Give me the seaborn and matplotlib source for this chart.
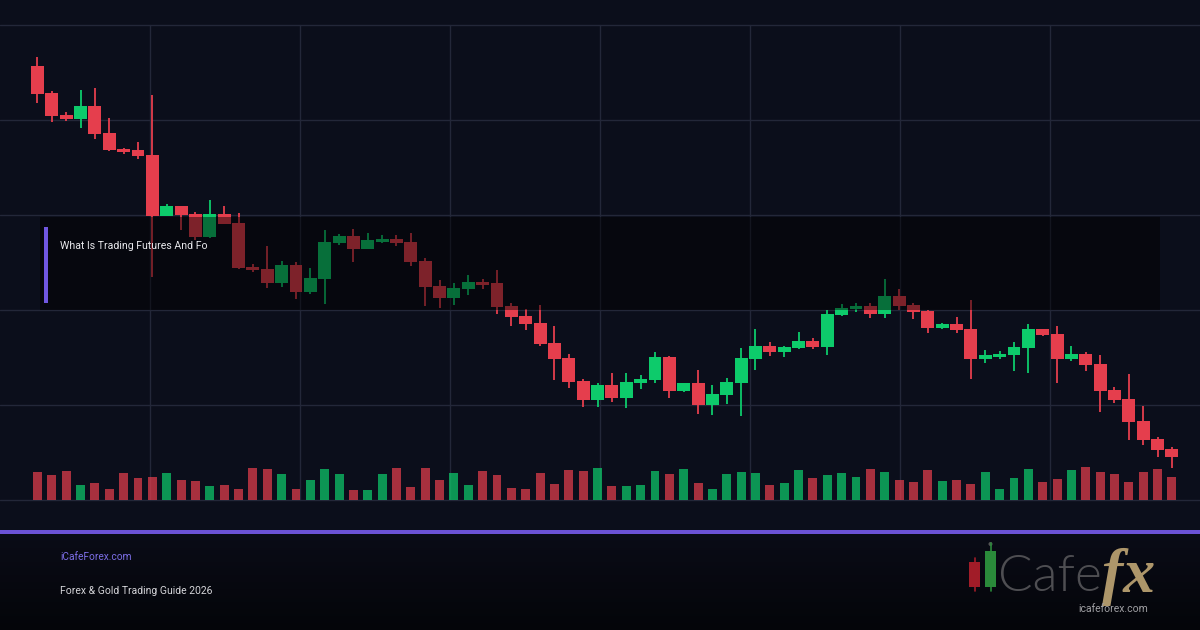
import numpy as np
import pandas as pd
import matplotlib
matplotlib.use('Agg')
import matplotlib.pyplot as plt
from matplotlib.patches import Rectangle, Circle
from matplotlib.colors import LinearSegmentedColormap
import seaborn as sns

# OHLC (one candle per session)
opens = [434, 407, 385, 381, 394, 367, 351, 350, 345, 284,
         294, 286, 263, 286, 277, 233, 231, 217, 235, 208,
         221, 257, 264, 251, 258, 261, 258, 239, 214, 202,
         211, 218, 217, 194, 184, 177, 157, 142, 119, 100,
         115, 102, 117, 120, 143, 109, 117, 95, 105, 117,
         141, 154, 148, 152, 159, 153, 185, 191, 194, 186,
         204, 195, 189, 172, 176, 171, 141, 143, 145, 152,
         171, 166, 141, 146, 136, 110, 101, 79, 61, 51]
highs = [443, 409, 388, 410, 412, 382, 352, 358, 405, 296,
         294, 288, 300, 294, 287, 236, 254, 239, 238, 232,
         270, 266, 271, 267, 265, 265, 267, 242, 220, 217,
         225, 221, 230, 197, 191, 195, 174, 146, 121, 117,
         127, 127, 125, 148, 144, 117, 130, 115, 122, 152,
         171, 158, 154, 168, 162, 190, 196, 197, 197, 221,
         211, 197, 190, 177, 183, 200, 150, 149, 158, 176,
         171, 174, 154, 148, 145, 113, 126, 94, 63, 53]
lows = [397, 378, 379, 372, 361, 349, 346, 341, 223, 284,
        270, 260, 262, 276, 231, 228, 212, 213, 201, 206,
        196, 255, 238, 251, 257, 254, 234, 194, 192, 195,
        205, 211, 186, 174, 170, 154, 120, 112, 93, 93,
        98, 92, 111, 117, 102, 108, 86, 85, 96, 84,
        130, 144, 143, 151, 151, 145, 184, 188, 182, 182,
        190, 181, 167, 171, 167, 121, 137, 141, 129, 127,
        164, 117, 139, 129, 88, 97, 60, 55, 43, 32]
closes = [406, 384, 381, 394, 366, 350, 348, 344, 284, 294,
          285, 263, 286, 276, 232, 230, 217, 235, 208, 222,
          258, 264, 251, 260, 261, 257, 238, 213, 202, 212,
          218, 215, 193, 183, 176, 156, 141, 118, 100, 115,
          102, 118, 121, 143, 109, 117, 95, 106, 118, 142,
          154, 148, 153, 159, 153, 186, 192, 194, 186, 204,
          194, 188, 172, 176, 170, 141, 145, 146, 153, 171,
          165, 141, 146, 135, 109, 100, 78, 60, 50, 43]
volumes = [28, 24.7, 28.7, 14.7, 16.7, 10.7, 26.7, 21.7, 22.7, 26.7,
           19.7, 18.7, 13.7, 14.7, 10.7, 31.7, 30.7, 25.7, 10.7, 19.7,
           30.7, 25.7, 9.7, 9.7, 25.7, 31.7, 12.7, 31.7, 19.7, 26.7,
           14.7, 28.7, 24.7, 11.7, 10.7, 26.7, 15.7, 29.7, 28.7, 31.7,
           13.7, 13.7, 14.7, 28.7, 25.7, 30.7, 16.7, 10.7, 25.7, 27.7,
           26.7, 14.7, 16.7, 29.7, 21.7, 24.7, 26.7, 22.7, 30.7, 27.7,
           19.7, 17.7, 29.7, 18.7, 19.7, 15.7, 27.7, 10.7, 21.7, 30.7,
           17.7, 20.7, 29.7, 32.7, 27.7, 25.7, 17.7, 27.7, 30.7, 22.7]

headline = 'What Is Trading Futures And Fo'
site_label = 'iCafeForex.com'
guide_label = 'Forex & Gold Trading Guide 2026'
logo_word = 'Cafe'
logo_fx = 'fx'
logo_url = 'icafeforex.com'

BG = '#0b0e1b'
GRID = '#232739'
RED = '#e53e4d'
GREEN = '#0dcb6b'
PURPLE = '#6b52d6'

df = pd.DataFrame({'open': opens, 'high': highs, 'low': lows,
                   'close': closes, 'volume': volumes})
df['idx'] = np.arange(len(df))
df['dir'] = np.where(df['close'] >= df['open'], 'up', 'down')

sns.set_theme(style='dark', rc={'figure.facecolor': BG, 'axes.facecolor': BG})
plt.rcParams['font.family'] = ['Roboto', 'DejaVu Sans']

W, H = 1200, 630
step = 14.36  # px per candle
x0 = 37.5     # px of first candle

fig = plt.figure(figsize=(12, 6.3), dpi=100)
fig.patch.set_facecolor(BG)

# background layer in pixel coordinates: grid + footer gradient
bg = fig.add_axes([0, 0, 1, 1], zorder=0)
bg.set_xlim(0, W)
bg.set_ylim(H, 0)
bg.axis('off')
for y in [25, 120, 215, 310, 405, 500]:
    bg.plot([0, W], [y, y], color=GRID, lw=1)
for x in [150, 300, 450, 600, 750, 900, 1050]:
    bg.plot([x, x], [25, 500], color=GRID, lw=1)
grad = np.linspace(0, 1, 200).reshape(-1, 1)
cmap = LinearSegmentedColormap.from_list('foot', ['#0a0c17', '#040509'])
bg.imshow(grad, extent=(0, W, H, 534), cmap=cmap, aspect='auto', origin='upper')
bg.set_xlim(0, W)
bg.set_ylim(H, 0)

# price axes
ax = fig.add_axes([0, (H - 500) / H, 1, 475 / H], zorder=1)
ax.patch.set_alpha(0)
cols = np.where(df['dir'] == 'up', GREEN, RED)
ax.vlines(df['idx'], df['low'], df['high'], colors=cols, lw=1.3)
body_low = df[['open', 'close']].min(axis=1)
body_h = (df['close'] - df['open']).abs().clip(lower=1.5)
ax.bar(df['idx'], body_h, bottom=body_low, width=0.9, color=cols, lw=0)

# volume on a twin axis
vax = ax.twinx()
sns.barplot(data=df, x='idx', y='volume', hue='dir',
            palette={'up': GREEN, 'down': RED}, native_scale=True,
            dodge=False, width=0.62, alpha=0.72, saturation=1,
            errorbar=None, legend=False, ax=vax,
            edgecolor='none', linewidth=0)
vax.set_ylim(0, 475)
ax.set_ylim(0, 475)
for a in (ax, vax):
    a.set_xlim(-x0 / step, (W - x0) / step)
    a.axis('off')

# overlay layer: headline box, footer, logo
top = fig.add_axes([0, 0, 1, 1], zorder=5)
top.patch.set_alpha(0)
top.set_xlim(0, W)
top.set_ylim(H, 0)
top.axis('off')
top.add_patch(Rectangle((40, 217), 1120, 93, color='black', alpha=0.45, lw=0))
top.add_patch(Rectangle((44, 227), 4, 76, color='#7057e0', lw=0))
top.text(60, 249, headline, color='#e8e8ec', fontsize=7.6, va='baseline')

top.add_patch(Rectangle((0, 530), W, 4, color=PURPLE, lw=0))
top.text(60, 560, site_label, color='#7c6ee6', fontsize=7.3, va='baseline')
top.text(60, 594, guide_label, color='#d4d4d8', fontsize=7.5, va='baseline')

# logo
top.plot([974.5, 974.5], [558, 591], color='#a11c28', lw=1.2)
top.add_patch(Rectangle((969, 562), 11, 25, color='#a11c28', lw=0))
top.plot([990.5, 990.5], [543, 591], color='#2a8a3a', lw=1.2)
top.add_patch(Circle((990.5, 544), 2, color='#555555', lw=0))
top.add_patch(Rectangle((985, 551), 11, 36, color='#2a8a3a', lw=0))
top.text(998, 591, logo_word, color='#4e4e52', fontsize=37, fontweight=300,
         family=['Lato', 'DejaVu Sans'], va='baseline')
top.text(1102, 592, logo_fx, color='#ad966a', fontsize=46, fontweight='bold',
         style='italic', family=['Liberation Serif', 'DejaVu Serif'], va='baseline')
top.text(1113, 612, logo_url, color='#a0a0a4', fontsize=7.5, ha='center', va='baseline')

fig.savefig('out.png', dpi=100, facecolor=BG)
